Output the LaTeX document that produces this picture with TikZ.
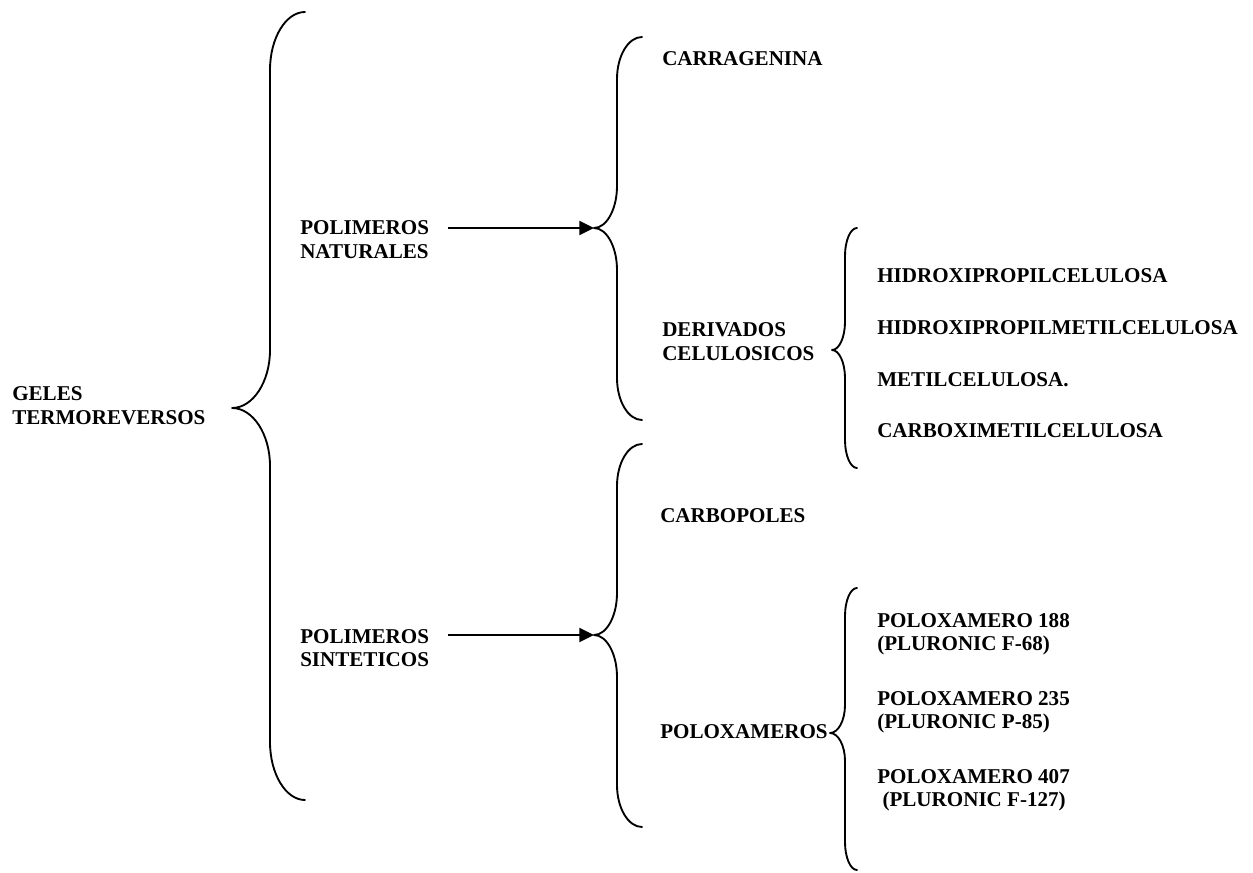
\documentclass[tikz,border=0pt]{standalone}
\usepackage{fontspec}
\setmainfont{Liberation Serif}
\usetikzlibrary{arrows.meta}

% two stacked lines sharing the baseline of the first one
\newcommand\twoline[2]{\vtop{\hbox{#1}\hbox{#2}}}

% left curly brace: tip x, stem x, end x, top y, tip y, bottom y, bend height
\newcommand\curly[7]{%
  \draw[brace] (#3,#4)
    .. controls ({#3-0.55*(#3-#2)},#4) and (#2,{#4+0.45*#7}) .. (#2,{#4+#7})
    -- (#2,{#5-#7})
    .. controls (#2,{#5-0.45*#7}) and ({#1+0.55*(#2-#1)},#5) .. (#1,#5)
    .. controls ({#1+0.55*(#2-#1)},#5) and (#2,{#5+0.45*#7}) .. (#2,{#5+#7})
    -- (#2,{#6-#7})
    .. controls (#2,{#6-0.45*#7}) and ({#3-0.55*(#3-#2)},#6) .. (#3,#6);}

\begin{document}
\begin{tikzpicture}[x=0.75pt,y=-0.75pt,
  lbl/.style={anchor=base west, inner sep=0pt,
    font=\fontsize{15.8}{17.6}\selectfont\bfseries},
  brace/.style={line width=1.4pt, line cap=round, line join=round},
  arr/.style={line width=1.4pt, -{Triangle[length=11pt,width=10.5pt]}}]
\useasboundingbox (0,0) rectangle (1253,873);

% root
\node[lbl] (geles) at (12,401) {\twoline{GELES}{TERMOREVERSOS}};
\curly{232}{270}{305}{12}{408}{800}{58}

% first level
\node[lbl] (nat) at (300,235) {\twoline{POLIMEROS}{NATURALES}};
\node[lbl] (sin) at (300,643) {\twoline{POLIMEROS}{SINTETICOS}};
\coordinate (natA) at (448,228);
\coordinate (sinA) at (448,635);
\coordinate (natT) at (594,228);
\coordinate (sinT) at (594,635);
\draw[arr] (natA) -- (natT);
\draw[arr] (sinA) -- (sinT);
\curly{594}{617}{642}{37}{228}{420}{42}
\curly{594}{617}{642}{444}{635}{827}{42}

% natural polymers
\node[lbl] (carr) at (662,66) {CARRAGENINA};
\node[lbl] (deriv) at (662,337) {\twoline{DERIVADOS}{CELULOSICOS}};
\curly{832}{845}{857}{228}{350}{468}{28}
\node[lbl] (hpc) at (877,283) {HIDROXIPROPILCELULOSA};
\node[lbl] (hpmc) at (877,335) {HIDROXIPROPILMETILCELULOSA};
\node[lbl] (mc) at (877,387) {METILCELULOSA.};
\node[lbl] (cmc) at (877,438) {CARBOXIMETILCELULOSA};

% synthetic polymers
\node[lbl] (carb) at (660,522) {CARBOPOLES};
\node[lbl] (polox) at (660,738) {POLOXAMEROS};
\curly{830}{845}{857}{588}{733}{870}{28}
\node[lbl] (p188) at (877,627) {\twoline{POLOXAMERO 188}{(PLURONIC F-68)}};
\node[lbl] (p235) at (877,705) {\twoline{POLOXAMERO 235}{(PLURONIC P-85)}};
\node[lbl] (p407) at (877,783) {\twoline{POLOXAMERO 407}{\hspace{0.25em}(PLURONIC F-127)}};
\end{tikzpicture}
\end{document}
